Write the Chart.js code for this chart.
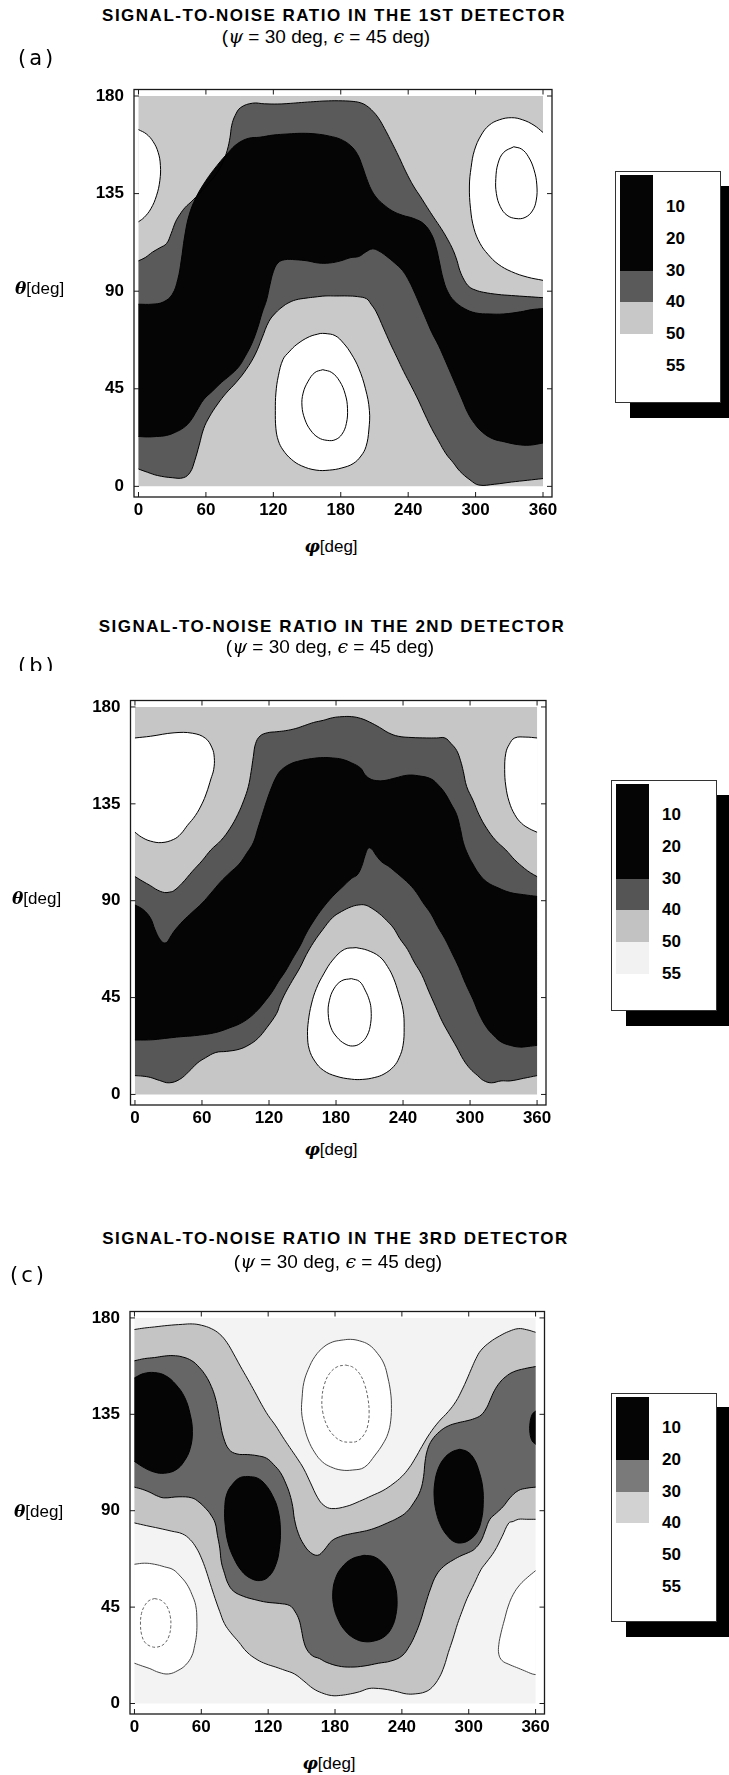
<!DOCTYPE html>
<html>
<head>
<meta charset="utf-8">
<title>Signal-to-noise ratio</title>
<script src="https://cdn.jsdelivr.net/npm/chart.js@4.4.1/dist/chart.umd.min.js"></script>
<style>
  html, body { margin: 0; padding: 0; background: #fff; }
  body { position: relative; width: 729px; height: 1775px; overflow: hidden; font-family: 'Liberation Sans', Arial, sans-serif; color: #000; }
  canvas, .t { position: absolute; }
  .title { width: 600px; text-align: center; font-weight: bold; font-size: 17px; letter-spacing: 1.5px; line-height: 20px; white-space: nowrap; }
  .sub { width: 400px; text-align: center; font-size: 19px; line-height: 22px; white-space: nowrap; }
  .greek { font-family: 'DejaVu Serif', serif; font-style: italic; }
  .tag { font-family: 'DejaVu Sans', sans-serif; font-size: 21px; letter-spacing: 3px; line-height: 24px; overflow: hidden; white-space: nowrap; }
  .ax { font-size: 17px; line-height: 22px; white-space: nowrap; }
  .ax b { font-family: 'DejaVu Serif', serif; font-style: italic; }
  .shadow { background: #000; }
  .box { background: #fff; border: 1px solid #333; box-sizing: border-box; }
  .lab { font-weight: bold; font-size: 17px; line-height: 20px; }
</style>
</head>
<body>
<script>
// axes and contour levels
const phiTicks = [0, 60, 120, 180, 240, 300, 360];
const thetaTicks = [0, 45, 90, 135, 180];
const levels = [10, 20, 30, 40, 50, 55];
const fullArea = [[0, 0], [360, 0], [360, 180], [0, 180]];

/** (a) 1st detector - contour regions as [phi, theta] */
const aBelow40 = [[0,104],[6,105.5],[12.4,108],[19,110],[25,112],[29,116.5],[33,122],[37,125.5],[41.5,128.6],[47.5,131.5],[54,135],[62,139.5],[70.5,145],[75.5,150],[79,155],[81.5,161],[83,166.5],[86,171],[91,174.7],[101.6,176.7],[112,176.4],[124,176.3],[135,176.6],[145,177],[156,177.4],[166,177.7],[178,177.8],[191,177.5],[198,176.8],[203,175.5],[208.5,173],[213.6,169.8],[219,165],[224,160],[232,151.7],[238,145],[244.7,138.5],[251,133.5],[257,128.6],[263,123.8],[269.5,118.8],[275,114],[280,108.9],[283.5,104],[286,99.5],[290,95],[294.4,92],[300,90.5],[307,89.5],[320,88.5],[332,88],[346,87.5],[360,87],
  [360,3.6],[346,2.8],[332,2],[317,1],[303,0.6],[295,3],[286,7],[280,11],[273.7,15],[267,21],[261,26.6],[255,33],[249,39.8],[242.5,46.5],[236,53],[230,59.5],[224,66],[218,73],[211.5,80.5],[207,84],[203,86.5],[195,87.5],[186,87.8],[176,87.8],[166,87.8],[157,87.3],[149,86.8],[140,86],[133,84.5],[128.6,83],[122,80],[116,76],[110,68.5],[104,61],[96,54],[87,48],[78,43],[70.5,38],[63,32],[58,26.6],[54,19],[50,11.8],[46,6.5],[40,4],[30,4],[17,5],[8,6.5],[0,8]];
const aBelow30 = [[0,84],[12,84],[22,85],[30,88.5],[35,95.5],[38,104],[41,115],[45,125],[51,133],[60,141],[70,148],[80,154],[88,158],[98,160.5],[108,161],[120,162],[133,162.5],[145,162.8],[158,162.5],[170,161.5],[180,160],[189,157],[195,153],[199,148],[203,142],[207,137],[212,133],[218,130],[226,127],[235,125],[245,123.5],[254,121],[261,116],[265,110],[268,103],[271,96],[275,90],[281,85.5],[290,82],[300,80],[312,79.5],[325,79.5],[340,80.5],[350,81.5],[360,82],
  [360,20],[348,19],[337,19.3],[326,20.5],[315,22],[306,25],[299,29],[293,34],[288,40],[283,46],[278,52],[273,58],[267,65],[261,71],[256,77],[251,83],[246,89],[241,94.5],[235,99.5],[228,103],[221,106],[214,108.5],[208,109.5],[202,108],[196,106],[189,105.5],[180,104],[170,103],[160,103],[150,104],[140,104.5],[130,104.5],[124,103],[120,99],[117,93],[114,86],[110,80],[106,73],[101,66],[95,60],[89,55],[81,51],[74,48],[66,44],[58,40],[52,35],[46,30],[40,27],[33,25],[25,23.5],[16,23],[8,22.8],[0,23]];
const aAbove50Left = [[0,164.5],[7,162.5],[13,159],[17.5,154],[19.5,148],[19,141],[16,134],[11,128],[5,124],[0,122]];
const aAbove50Right = [[360,163.2],[352,166.5],[342,169],[332,170],[321,169],[312,166.5],[305,162],[299,155],[296,147],[294.5,138.5],[295.5,128],[298.5,119],[304,112],[311,107],[320,102.5],[332,99],[346,96.5],[360,95]];
const aAbove55Right = [[334,156.6],[341,155.5],[347,152],[352,146],[354.5,139],[354,132],[350.5,127],[344,124],[336,123.5],[328,125],[322,129],[318.5,135],[318,142],[320,149],[325,154]];
const aAbove50Mid = [[161.7,70.5],[152,69],[141,65.5],[134,62],[128.6,58.5],[124.5,51],[122.3,43.1],[121.8,35],[122.3,26.6],[124.5,21],[128.6,16.8],[136,12.5],[145,9.5],[158,7.5],[170,7.5],[181,8.5],[191,10.5],[198,14],[202.5,18.4],[205,26],[205.5,35],[202,45],[196,54.5],[189.5,61],[182.5,66],[175,69.5],[166,70.5]];
const aAbove55Mid = [[164,53.8],[172,52.5],[179,48.5],[184,42.5],[186,36],[185,29],[181,24],[175,21.5],[168,21.2],[160,22.5],[153,26],[148,31],[145.5,37],[146.5,43],[151,48.5],[157,52.5]];

/** (b) 2nd detector */
const bBelow40 = [[0,101.2],[7,99],[13.8,97],[20,95],[26.4,93.8],[31,94],[34.7,94.6],[42,98],[51.5,103.7],[60,108.5],[68,113.6],[77,118],[85,123.5],[92,130],[97.5,136.7],[101.5,143],[104,150],[106,157],[108,163],[112,166.5],[118.5,168],[127,168.5],[135,169],[144,170],[152,171.4],[160,172.8],[168.7,173.8],[177,175],[185.4,175.5],[194,175.5],[202,174.7],[210,173],[219,170.5],[227,168],[235.7,166.4],[248,165.8],[260.8,165.6],[270,165.6],[277.5,165.6],[283,163],[288,159.8],[291.5,155],[294,150],[297,143],[302.6,136.7],[308,130],[315,123.5],[323,118],[332,113.6],[340,109],[348.7,105],[354,103],[360,101.2],
  [360,8.75],[348,7.5],[336,6.3],[327.8,6.3],[319,5.4],[312,6.5],[306.8,8.75],[300,12],[294,16.2],[288,22],[281.7,27.7],[275,34],[269,41],[263,48],[256.6,55.8],[250,61.5],[244,67.4],[237,72.5],[231.5,77.3],[225,81],[219,83.9],[212,86.5],[206,88],[200,88],[193.8,87.2],[185,85],[177,82.2],[168,76.5],[160,70.7],[153.5,65],[147.8,59],[141,53],[135,47.5],[130,42],[126.8,37.6],[118,31],[110,26],[102,23],[93.3,21],[82,20],[72.4,19.5],[63,17],[55.7,14.5],[48,10.5],[40,7],[30.6,5.4],[22,6.5],[13.8,7.9],[7,8.5],[0,8.75]];
const bBelow30 = [[0,88],[7,86],[13.8,82],[18,76.5],[22,72.3],[25.5,70.5],[28.5,70.7],[31.5,73],[34.7,75.6],[38.5,78],[43,80.6],[51,84.5],[60,88.8],[68,93.5],[76.6,98.7],[85,103],[93.3,107],[100,112],[106,117],[110,123.5],[114,130],[118,136.5],[122.6,143],[126.5,147.5],[131,150.7],[139,153.5],[147.8,155],[158,156],[168.7,156.5],[177,156.3],[185.4,155.7],[194,154],[202,151.6],[206,148.5],[210.6,146.6],[216,145.8],[223,145.8],[233,147],[244,148.3],[254,148],[265,146.6],[272,143.5],[277.5,140],[283,135],[288,130],[291.5,123],[294,117],[298,111.5],[302.6,107],[308,102.5],[315,98.7],[325,96],[336,93.8],[348,92.8],[360,92],
  [360,22.8],[352,22.3],[344.5,22],[336,22.8],[327.8,24.4],[321,27.5],[315,31],[308,37.5],[302.6,44.2],[296,51.5],[290,59],[284,65.5],[277.5,72.3],[271,78],[265,83.9],[258,89],[252,93.8],[246,97.5],[240,100.4],[233,103.5],[227,106],[221,108],[216,111],[212,114],[209,114.5],[206,111],[203,106],[199,102],[194,100.4],[185,96],[177,92],[168,86.5],[160,80.6],[153.5,75],[147.8,69],[141,63],[135,57.5],[128.5,52.5],[122.6,47.5],[116,43],[110,39.3],[102,35.5],[93.3,32.7],[85,31],[76.6,29.4],[68,28.3],[60,27.7],[51,27.2],[43,26.9],[35,26.5],[26.4,26],[18,25.5],[10,25.3],[0,25.3]];
const bAbove50Left = [[0,165.6],[14,166.4],[35,168],[51.5,167.8],[63,165.5],[69,161],[71,156.5],[70.5,151],[68,146.6],[64,140],[60,135],[54,129.5],[47,125],[41,121],[34.7,118.5],[24,117],[13.8,117.7],[6,119.5],[0,121.8]];
const bAbove50Right = [[360,165.6],[350,166],[340,165.6],[335,162.5],[332,158.5],[331,151],[332,143.3],[335,136],[340,130],[346,126],[353,123.5],[360,121.8]];
const bAbove50Mid = [[198,68.2],[208,67],[219,64],[226,59.5],[231.5,54],[236,47],[240,39.3],[241,31],[240,22.8],[236.5,17],[231.5,12.9],[223,9.5],[214.7,7.9],[204,7],[193.8,7.1],[180,8.5],[168.7,11.2],[161,15.5],[156,21],[154.5,27.5],[155.3,34.3],[158,42],[162.4,49.2],[169,56],[177,62.4],[187.5,67.4]];
const bAbove55Mid = [[193.8,53.8],[201,52.5],[206,48.5],[210,43.5],[211.4,39.3],[211,33],[208,27.5],[202,23.8],[195,22.5],[188,23.5],[181,26.5],[175.5,31],[173,37.6],[174,43.5],[178,49],[185,52.8]];

/** (c) 3rd detector */
const cBelow40 = [[0,174.6],[9,175.3],[18,175.8],[30,176.5],[43,177],[52,177.2],[60,176.6],[69,175],[76.6,172.4],[83,168.5],[89,163.2],[95,157.5],[101.7,151.4],[108,145.5],[114,139.7],[120,134.5],[126.8,129.6],[133,124.5],[139.4,119.5],[146,114.5],[152,109.5],[158,103],[164.5,96],[170,92.5],[177,91],[190,92],[202,94.4],[213,97],[223,99.4],[232,102.5],[240,106],[246.5,110],[252,114.5],[258,120],[265,126],[273,131.5],[281.7,136.3],[288.5,141],[294,146.4],[298.5,151.5],[302.6,156.5],[306.5,161],[311,164.9],[319,168.7],[327.8,171.6],[336,173.7],[344.5,175],[352,174.5],[360,173.3],
  [360,86],[352,86],[344.5,86],[340,85],[336,84.3],[330,78],[323,71],[316,66],[311,62.5],[305,56],[298.5,49],[294,43],[290,37.3],[286,30.5],[281.7,23.8],[278,17.5],[273.4,12],[267,7.5],[260.8,5.4],[252,4.5],[244,4.5],[236,5.5],[227,6.5],[219,7],[210.6,7],[202,5.5],[193.8,4.5],[185,3.8],[177,3.7],[168,5],[160.3,7],[152,10.5],[143.6,13.8],[135,15.5],[126.8,17],[118,18.5],[110,20.5],[101,24],[93.3,28.9],[86.5,33],[80.8,37.3],[76.5,43],[72.4,49],[68,56],[64,62.5],[60,68],[55.7,72.5],[50,76.5],[43,79.2],[33,80.5],[22,81.8],[11,83],[0,84.3]];
const cBelow30 = [[0,160],[9,161],[18,161.5],[27,162.2],[34.7,162.4],[43,161.8],[51.5,160],[58,157],[64,153],[69,148],[72.4,143],[75,137],[77,131],[80,124],[85,118.5],[92,116.5],[101.7,116.2],[110,115.7],[118.5,114.5],[125,111.5],[131,107.8],[136,102.5],[139.4,97.7],[142,92],[143.6,86],[147,79.5],[152,74.2],[158,70.5],[164.5,69.2],[170,71.5],[177,75.9],[185,78],[193.8,79.2],[202,80],[210.6,81],[219,82.5],[227,84.3],[236,86.5],[244,89.3],[251,94],[256.6,99.4],[259.5,106],[260.8,112.8],[263,118.5],[267,123],[274,127],[281.7,129.6],[290,131],[298.5,132],[305,133],[311,134.6],[316,138],[319,141.4],[323,146],[327.8,149.8],[333,152.5],[340,154.8],[350,156.3],[360,157.3],
  [360,101],[352,100.5],[344.5,99.4],[337,96],[331,92],[325,89],[319,86],[315,81],[311,75.9],[305,72],[300,70.5],[294,69.2],[286,67],[277.5,64],[271,60],[266,54],[260.8,45.7],[257,39],[252,32.2],[247,27],[240,22.2],[230,19.8],[219,18.8],[206,17.5],[193.8,17],[183,17.5],[172,19.3],[166,21],[160,22.2],[155,25],[152,28.9],[150,34],[147.8,39],[144,43],[139.4,45.7],[130,46.7],[118.5,47.3],[108,48.5],[98,50],[89,52.4],[84,56],[80.8,60.8],[78,66],[76.6,72.5],[74.5,78.5],[72.4,84.3],[68,88.5],[64,91],[58,94],[51.5,96],[40,96.5],[26.4,96],[20,97],[13.8,98.6],[7,100],[0,101]];
const cBelow20Left = [[0,152],[8,154],[18,154.5],[28,153],[37,149],[45,143],[50,135],[52,127],[50,119],[44.5,113],[37,109],[27,107.5],[18,108],[9,110],[0,113]];
const cBelow20Mid = [[101.7,106],[110,105.3],[117,102.5],[124,97],[129,90],[131,81],[130,72],[127,65],[121,59.5],[113,57.4],[104,58.5],[96,62],[89,68],[84,75],[81.5,83],[81,91],[83,98],[89,103],[95,105.5]];
const cBelow20Low = [[206,69.2],[215,68.5],[223,65.5],[229.5,61],[234,55],[235.7,48],[234.5,41],[231,35.5],[225,31.5],[216,29.3],[206,28.9],[197,30.5],[189,34],[183,39],[179,45],[178,52],[180.5,58.5],[186,63.5],[195,67.5]];
const cBelow20Right = [[292,118.7],[299,117.5],[305,114],[309.5,108],[312.5,101],[313,93],[311.5,86],[307.5,80],[301,76.5],[294,75],[287,75.5],[280.5,78.5],[275,83],[271,89],[269,96],[269.5,103],[272.5,109.5],[278,114.5],[285,117.5]];
const cBelow20Edge = [[360,136.5],[357,135],[355,131],[355,126],[357,122.5],[360,121]];
const cAbove50Top = [[185.4,169.6],[193.8,170],[202,169.3],[210.6,167.4],[218,163.5],[224,158.5],[227.5,152],[229.8,145.5],[230.6,139.7],[230,132],[227.5,126],[223,121.2],[216,116],[206.4,110.3],[196,109],[185.4,109],[176,110.5],[168.7,112.8],[162,117],[156,123],[152,130],[150,136.3],[150.5,143],[152,149.8],[156,156],[162,162],[170,166.5],[178,168.8]];
const cAbove55Top = [[189.6,158],[196,157],[202,154],[206.5,149],[209.5,142.5],[210.6,136],[209.5,130],[206,125.5],[200,122.5],[193,122],[186,122.5],[179,125],[173,129.5],[169,136],[168.3,142.5],[170.5,149],[175,154],[182,157.2]];
const cAbove50Left = [[0,65],[9,65.5],[18,65],[27,63.8],[34.7,62.5],[41,59.5],[47,55.7],[51.5,51],[55,45.7],[56,39],[55.7,32.2],[54,27],[51.5,22.2],[46,18],[39,15.4],[30.6,13.8],[22,14.5],[13.8,16.3],[7,17.5],[0,18.8]];
const cAbove55Left = [[18,49],[24.5,48],[29.5,45],[32.2,40.5],[32.6,36],[31,31.5],[27,28],[21,26.4],[15,26.6],[9.5,28.5],[6.5,32],[5.4,37],[6.3,42],[9,45.5],[13,48]];
const cAbove50Right = [[360,62],[353,59],[346,55.5],[340,51],[335.5,45.5],[332,39],[329,33],[327,27.5],[327,23],[330,20],[336,18.3],[343,16.8],[350,15.3],[357,13.8],[360,13.5]];

const panels = [
  {
    frame: { left: 134, right: 552, top: 89.5, bottom: 497 },
    layers: [
      { pts: fullArea, fill: '#c9c9c9' },
      { pts: aBelow40, fill: '#5a5a5a', line: '#000' },
      { pts: aBelow30, fill: '#050505', line: '#000' },
      { pts: aAbove50Left, fill: '#fff', line: '#000' },
      { pts: aAbove50Right, fill: '#fff', line: '#000' },
      { pts: aAbove55Right, fill: '#fff', line: '#000' },
      { pts: aAbove50Mid, fill: '#fff', line: '#000' },
      { pts: aAbove55Mid, fill: '#fff', line: '#000' }
    ]
  },
  {
    frame: { left: 130.5, right: 546, top: 700.5, bottom: 1105 },
    layers: [
      { pts: fullArea, fill: '#c6c6c6' },
      { pts: bBelow40, fill: '#575757', line: '#000' },
      { pts: bBelow30, fill: '#050505', line: '#000' },
      { pts: bAbove50Left, fill: '#fff', line: '#000' },
      { pts: bAbove50Right, fill: '#fff', line: '#000' },
      { pts: bAbove50Mid, fill: '#fff', line: '#000' },
      { pts: bAbove55Mid, fill: '#fff', line: '#000' }
    ]
  },
  {
    frame: { left: 130, right: 544.5, top: 1311.5, bottom: 1714 },
    layers: [
      { pts: fullArea, fill: '#f3f3f3' },
      { pts: cBelow40, fill: '#c4c4c4', line: '#111' },
      { pts: cBelow30, fill: '#666666', line: '#000' },
      { pts: cBelow20Left, fill: '#050505', line: '#000' },
      { pts: cBelow20Mid, fill: '#050505', line: '#000' },
      { pts: cBelow20Low, fill: '#050505', line: '#000' },
      { pts: cBelow20Right, fill: '#050505', line: '#000' },
      { pts: cBelow20Edge, fill: '#050505', line: '#000' },
      { pts: cAbove50Top, fill: '#fff', line: '#444' },
      { pts: cAbove55Top, fill: '#fff', line: '#666', dash: [3, 2] },
      { pts: cAbove50Left, fill: '#fff', line: '#444' },
      { pts: cAbove55Left, fill: '#fff', line: '#666', dash: [3, 2] },
      { pts: cAbove50Right, fill: '#fff', line: '#444' }
    ]
  }
];

const texts = [
  { title: 'SIGNAL-TO-NOISE RATIO IN THE 1ST DETECTOR', tcx: 334, tcy: 16, scx: 326, scy: 36, tag: '(a)', gx: 18, gy: 58, clip: 0, thx: 15, thy: 288, phx: 331, phy: 546 },
  { title: 'SIGNAL-TO-NOISE RATIO IN THE 2ND DETECTOR', tcx: 332, tcy: 627, scx: 330, scy: 646, tag: '(b)', gx: 18, gy: 666, clip: 17, thx: 12, thy: 898, phx: 331, phy: 1149 },
  { title: 'SIGNAL-TO-NOISE RATIO IN THE 3RD DETECTOR', tcx: 335.5, tcy: 1239, scx: 338, scy: 1260.5, tag: '(c)', gx: 10, gy: 1275, clip: 0, thx: 14, thy: 1511, phx: 329, phy: 1763 }
];

const legends = [
  { left: 615, right: 720.5, top: 171, bottom: 403, shLeft: 629.5, shTop: 186, shBottom: 418, swLeft: 620, swRight: 653, y10: 207, labLeft: 666,
    bands: ['#050505', '#050505', '#050505', '#5a5a5a', '#c8c8c8', '#fff', '#fff'] },
  { left: 611, right: 716.5, top: 780, bottom: 1011, shLeft: 626, shTop: 795, shBottom: 1026, swLeft: 616, swRight: 649, y10: 815, labLeft: 662,
    bands: ['#050505', '#050505', '#050505', '#555', '#c2c2c2', '#f2f2f2', '#fff'] },
  { left: 611, right: 716.5, top: 1393, bottom: 1622, shLeft: 626, shTop: 1407, shBottom: 1637, swLeft: 616, swRight: 649, y10: 1428, labLeft: 662,
    bands: ['#050505', '#050505', '#7a7a7a', '#d2d2d2', '#fff', '#fff', '#fff'] }
];
const labelStep = 31.8;

function addEl(tag, cls, css, html) {
  const el = document.createElement(tag);
  if (cls) el.className = cls;
  Object.assign(el.style, css);
  if (html) el.innerHTML = html;
  document.body.appendChild(el);
  return el;
}

const isEdge = (x, y) => x <= 0 || x >= 360 || y <= 0 || y >= 180;
const sameEdge = (p, q) =>
  (p.x <= 0 && q.x <= 0) || (p.x >= 360 && q.x >= 360) ||
  (p.y <= 0 && q.y <= 0) || (p.y >= 180 && q.y >= 180);

// closed ring; points on the border are doubled so the spline stays straight there
function ring(pts) {
  const out = [];
  pts.concat([pts[0]]).forEach(([x, y]) => {
    out.push({ x, y });
    if (isEdge(x, y)) out.push({ x, y });
  });
  return out;
}

const framePlugin = {
  id: 'frame',
  afterDraw(chart) {
    const { ctx, chartArea: a } = chart;
    const xs = chart.scales.x, ys = chart.scales.y;
    ctx.save();
    ctx.strokeStyle = '#1a1a1a';
    ctx.lineWidth = 1.3;
    ctx.strokeRect(a.left, a.top, a.right - a.left, a.bottom - a.top);
    ctx.lineWidth = 1;
    ctx.beginPath();
    phiTicks.forEach(v => {
      const p = xs.getPixelForValue(v);
      ctx.moveTo(p, a.bottom); ctx.lineTo(p, a.bottom - 5);
      ctx.moveTo(p, a.top); ctx.lineTo(p, a.top + 5);
    });
    thetaTicks.forEach(v => {
      const p = ys.getPixelForValue(v);
      ctx.moveTo(a.left, p); ctx.lineTo(a.left + 5, p);
      ctx.moveTo(a.right, p); ctx.lineTo(a.right - 5, p);
    });
    ctx.stroke();
    ctx.restore();
  }
};

const tickFont = { family: "'Liberation Sans Narrow', 'Liberation Sans', Arial, sans-serif", size: 17, weight: 'bold' };

panels.forEach(panel => {
  const f = panel.frame;
  const cTop = Math.floor(f.top) - 30;
  const cH = Math.ceil(f.bottom) + 30 - cTop;
  const cW = 580;
  const canvas = addEl('canvas', null, { left: '0px', top: cTop + 'px', width: cW + 'px', height: cH + 'px' });
  canvas.width = cW;
  canvas.height = cH;

  const datasets = [];
  panel.layers.forEach((L, i) => {
    datasets.push({
      data: ring(L.pts), showLine: true, fill: 'shape', backgroundColor: L.fill,
      borderColor: 'rgba(0,0,0,0)', borderWidth: 0, pointRadius: 0, tension: 0.4, order: 1000 - i
    });
  });
  panel.layers.forEach((L, i) => {
    if (!L.line) return;
    datasets.push({
      data: ring(L.pts), showLine: true, fill: false, borderColor: L.line, borderWidth: 1,
      borderDash: L.dash || [], pointRadius: 0, tension: 0.4, order: 500 - i,
      segment: {
        borderColor: ctx => {
          const d = ctx.chart.data.datasets[ctx.datasetIndex].data;
          return sameEdge(d[ctx.p0DataIndex], d[ctx.p1DataIndex]) ? 'rgba(0,0,0,0)' : undefined;
        }
      }
    });
  });

  new Chart(canvas.getContext('2d'), {
    type: 'scatter',
    data: { datasets },
    options: {
      responsive: false,
      animation: false,
      devicePixelRatio: 1,
      events: [],
      layout: { padding: { top: f.top - cTop, right: cW - f.right, left: 0, bottom: 0 } },
      plugins: { legend: { display: false }, tooltip: { enabled: false } },
      scales: {
        x: {
          type: 'linear', min: -4, max: 368,
          afterBuildTicks: s => { s.ticks = phiTicks.map(v => ({ value: v })); },
          afterFit: s => { s.height = cH - (f.bottom - cTop); },
          grid: { display: false, drawTicks: false }, border: { display: false },
          ticks: { color: '#000', font: tickFont, padding: 3, maxRotation: 0, autoSkip: false, callback: v => String(v) }
        },
        y: {
          type: 'linear', min: -4.9, max: 183,
          afterBuildTicks: s => { s.ticks = thetaTicks.map(v => ({ value: v })); },
          afterFit: s => { s.width = f.left; },
          grid: { display: false, drawTicks: false }, border: { display: false },
          ticks: { color: '#000', font: tickFont, padding: 10, autoSkip: false, callback: v => String(v) }
        }
      }
    },
    plugins: [framePlugin]
  });
});

texts.forEach(t => {
  addEl('div', 't title', { left: (t.tcx - 300) + 'px', top: (t.tcy - 10) + 'px' }, t.title);
  addEl('div', 't sub', { left: (t.scx - 200) + 'px', top: (t.scy - 11) + 'px' },
    '(<span class="greek">\u03C8</span> = 30 deg, <span class="greek">\u03F5</span> = 45 deg)');
  const tag = addEl('div', 't tag', { left: t.gx + 'px', top: (t.gy - 12) + 'px' }, t.tag);
  if (t.clip) tag.style.height = t.clip + 'px';
  addEl('div', 't ax', { left: t.thx + 'px', top: (t.thy - 11) + 'px' }, '<b>\u03B8</b>[deg]');
  addEl('div', 't ax', { left: (t.phx - 40) + 'px', top: (t.phy - 11) + 'px', width: '80px', textAlign: 'center' }, '<b>\u03C6</b>[deg]');
});

legends.forEach(g => {
  addEl('div', 't shadow', { left: g.shLeft + 'px', top: g.shTop + 'px', width: (729 - g.shLeft) + 'px', height: (g.shBottom - g.shTop) + 'px' });
  addEl('div', 't box', { left: g.left + 'px', top: g.top + 'px', width: (g.right - g.left) + 'px', height: (g.bottom - g.top) + 'px' });
  const edges = [g.top + 3.5].concat(levels.map((v, i) => g.y10 + i * labelStep)).concat([g.bottom - 4]);
  g.bands.forEach((c, i) => {
    addEl('div', 't', { left: g.swLeft + 'px', top: edges[i] + 'px', width: (g.swRight - g.swLeft) + 'px', height: (edges[i + 1] - edges[i]) + 'px', background: c });
  });
  levels.forEach((v, i) => {
    addEl('div', 't lab', { left: g.labLeft + 'px', top: (g.y10 + i * labelStep - 10) + 'px' }, String(v));
  });
});
</script>
</body>
</html>
